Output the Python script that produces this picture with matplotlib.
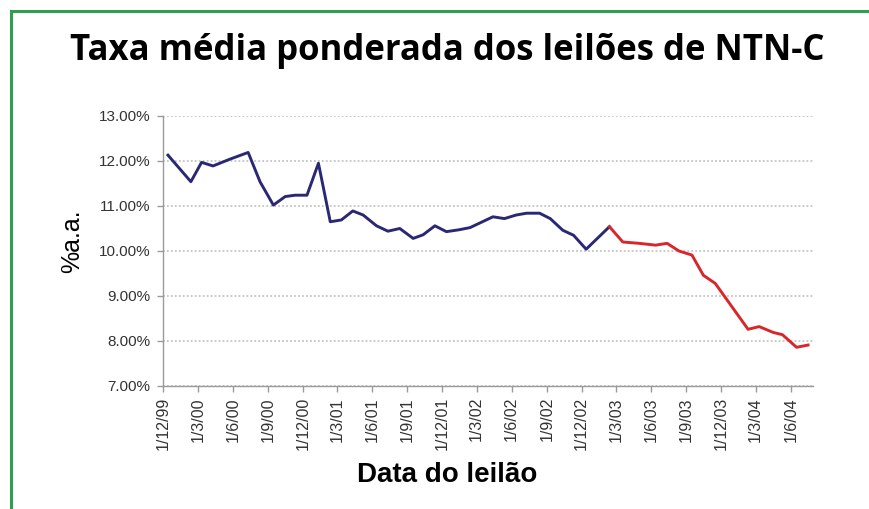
import matplotlib
matplotlib.use("Agg")
import matplotlib.pyplot as plt
import pandas as pd

title = "Taxa média ponderada dos leilões de NTN-C"
xlabel = "Data do leilão"
ylabel = "%a.a."

dates = ["1999-12-14", "2000-02-12", "2000-03-11", "2000-04-10", "2000-05-24",
         "2000-07-11", "2000-08-11", "2000-09-15", "2000-10-16", "2000-11-11",
         "2000-12-12", "2001-01-11", "2001-02-11", "2001-03-12", "2001-04-11",
         "2001-05-08", "2001-06-12", "2001-07-12", "2001-08-12", "2001-09-16",
         "2001-10-12", "2001-11-12", "2001-12-12", "2002-01-13", "2002-02-12",
         "2002-03-09", "2002-04-13", "2002-05-13", "2002-06-13", "2002-07-10",
         "2002-08-13", "2002-09-10", "2002-10-13", "2002-11-10", "2002-12-13",
         "2003-02-12", "2003-03-19", "2003-05-01", "2003-06-13", "2003-07-13",
         "2003-08-13", "2003-09-16", "2003-10-16", "2003-11-16", "2004-02-10",
         "2004-03-10", "2004-04-16", "2004-05-10", "2004-06-16", "2004-07-16"]
rates = [12.13, 11.54, 11.97, 11.89, 12.04,
         12.19, 11.54, 11.02, 11.21, 11.24,
         11.24, 11.95, 10.65, 10.69, 10.89,
         10.80, 10.56, 10.44, 10.50, 10.28,
         10.36, 10.56, 10.43, 10.47, 10.52,
         10.62, 10.76, 10.72, 10.80, 10.84,
         10.84, 10.72, 10.46, 10.35, 10.04,
         10.54, 10.20, 10.17, 10.13, 10.17,
         10.00, 9.91, 9.46, 9.28, 8.26,
         8.32, 8.19, 8.14, 7.86, 7.91]
split_date = "2003-02-12"  # blue up to here, red from here

tick_dates = ["1999-12-01", "2000-03-01", "2000-06-01", "2000-09-01", "2000-12-01",
              "2001-03-01", "2001-06-01", "2001-09-01", "2001-12-01", "2002-03-01",
              "2002-06-01", "2002-09-01", "2002-12-01", "2003-03-01", "2003-06-01",
              "2003-09-01", "2003-12-01", "2004-03-01", "2004-06-01"]
tick_labels = ["1/12/99", "1/3/00", "1/6/00", "1/9/00", "1/12/00", "1/3/01", "1/6/01",
               "1/9/01", "1/12/01", "1/3/02", "1/6/02", "1/9/02", "1/12/02", "1/3/03",
               "1/6/03", "1/9/03", "1/12/03", "1/3/04", "1/6/04"]
y_ticks = [7, 8, 9, 10, 11, 12, 13]

df = pd.DataFrame({"date": pd.to_datetime(dates), "rate": rates})
sd = pd.Timestamp(split_date)
blue = df[df["date"] <= sd]
red = df[df["date"] >= sd]

fig = plt.figure(figsize=(8.69, 5.09), dpi=100)
fig.patch.set_facecolor("white")
ax = fig.add_axes([163/869, 1-386/509, 650/869, 270/509])

ax.plot(blue["date"], blue["rate"], color="#2a2874", lw=2.1, solid_joinstyle="round")
ax.plot(red["date"], red["rate"], color="#d8262b", lw=2.1, solid_joinstyle="round")

ax.set_ylim(7, 13)
ax.set_xlim(pd.Timestamp("1999-12-01"), pd.Timestamp("2004-07-29"))
ax.set_yticks(y_ticks)
ax.set_yticklabels([f"{v:.2f}%" for v in y_ticks], fontsize=11, family="Liberation Sans", color="#333333")
ax.set_xticks(pd.to_datetime(tick_dates))
ax.set_xticklabels(tick_labels, rotation=90, fontsize=11.5, family="Liberation Sans", color="#333333")

ax.grid(axis="y", linestyle=(0, (1, 1.2)), color="#c4c4c4", lw=1.3)
ax.set_axisbelow(True)
for s in ["top", "right"]:
    ax.spines[s].set_visible(False)
for s in ["left", "bottom"]:
    ax.spines[s].set_color("#9a9a9a")
    ax.spines[s].set_linewidth(1.0)
ax.tick_params(axis="y", color="#9a9a9a", length=4, width=1.0, pad=5)
ax.tick_params(axis="x", color="#9a9a9a", length=4, width=1.0, pad=4)

fig.text(72/869, 1-241/509, ylabel, rotation=90, ha="center", va="center",
         fontsize=18, family="Liberation Sans")
fig.text(447/869, 1-482/509, xlabel, ha="center", va="baseline", fontsize=20,
         fontweight="bold", family="Liberation Sans")
fig.text(447/869, 1-60/509, title, ha="center", va="baseline", fontsize=25,
         fontweight="bold", family="Open Sans")

# green frame
fig.add_artist(plt.Line2D([11/869, 11/869], [0, 1-11/509], transform=fig.transFigure,
                          color="#2e9e50", lw=2.2))
fig.add_artist(plt.Line2D([11/869, 1], [1-11/509, 1-11/509], transform=fig.transFigure,
                          color="#2e9e50", lw=2.2))

fig.savefig("out.png", dpi=100)
